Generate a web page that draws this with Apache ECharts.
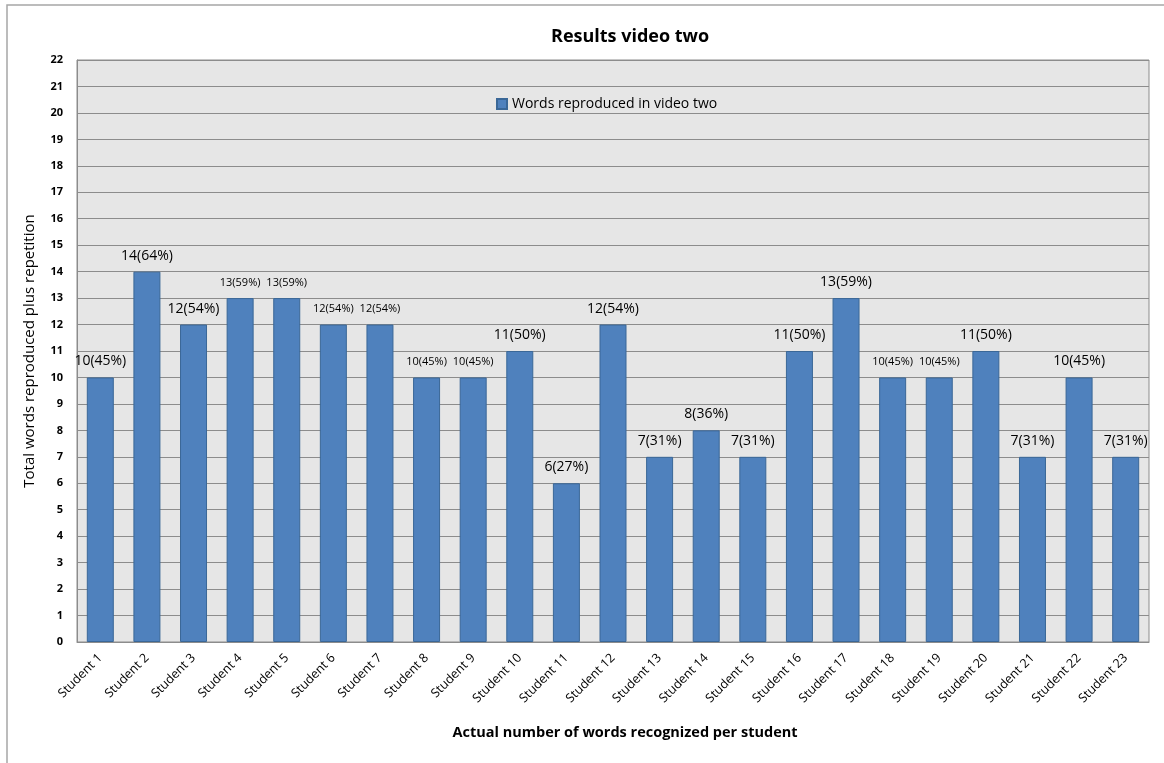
<!DOCTYPE html>
<html lang="en">
<head>
    <meta charset="UTF-8">
    <title>Results video two</title>
    <script src="https://cdn.jsdelivr.net/npm/echarts@6/dist/echarts.min.js"></script>
    <style>
        html, body { margin: 0; padding: 0; background: #fff; }
        #chart { width: 1164px; height: 763px; }
    </style>
</head>
<body>
<div id="chart"></div>
<script type="application/javascript">
    // data
    var students = ['Student 1', 'Student 2', 'Student 3', 'Student 4', 'Student 5', 'Student 6',
        'Student 7', 'Student 8', 'Student 9', 'Student 10', 'Student 11', 'Student 12',
        'Student 13', 'Student 14', 'Student 15', 'Student 16', 'Student 17', 'Student 18',
        'Student 19', 'Student 20', 'Student 21', 'Student 22', 'Student 23'];
    var words = [10, 14, 12, 13, 13, 12, 12, 10, 10, 11, 6, 12, 7, 8, 7, 11, 13, 10, 10, 11, 7, 10, 7];
    var percents = [45, 64, 54, 59, 59, 54, 54, 45, 45, 50, 27, 54, 31, 36, 31, 50, 59, 45, 45, 50, 31, 45, 31];
    // labels drawn in a smaller font in the original
    var smallLabels = [3, 4, 5, 6, 7, 8, 17, 18];

    var font = '"Open Sans", "DejaVu Sans", sans-serif';

    var chart = echarts.init(document.getElementById('chart'));
    var option = {
        backgroundColor: '#fff',
        animation: false,
        graphic: [{
            type: 'rect',
            shape: {x: 7, y: 5, width: 1170, height: 770},
            style: {fill: 'none', stroke: '#a6a6a6', lineWidth: 1.5},
            silent: true
        }],
        title: {
            text: 'Results video two',
            left: 546,
            top: 23,
            textStyle: {fontFamily: font, fontSize: 18, fontWeight: 'bold', color: '#000'}
        },
        legend: {
            data: ['Words reproduced in video two'],
            top: 92,
            left: 491,
            itemWidth: 10,
            itemHeight: 10,
            itemGap: 4,
            icon: 'rect',
            textStyle: {fontFamily: font, fontSize: 14, color: '#000'}
        },
        grid: {
            left: 77,
            right: 15,
            top: 60,
            bottom: 121,
            show: true,
            backgroundColor: '#e6e6e6',
            borderColor: '#8c8c8c',
            borderWidth: 1
        },
        xAxis: {
            type: 'category',
            data: students,
            name: 'Actual number of words recognized per student',
            nameLocation: 'middle',
            nameGap: 83,
            nameTextStyle: {
                fontFamily: font, fontSize: 14.5, fontWeight: 'bold', color: '#000',
                padding: [0, 0, 0, 24]
            },
            axisLine: {lineStyle: {color: '#8c8c8c'}},
            axisTick: {show: false},
            axisLabel: {
                interval: 0,
                rotate: 45,
                margin: 14,
                fontFamily: font,
                fontSize: 12.5,
                color: '#000'
            }
        },
        yAxis: {
            type: 'value',
            min: 0,
            max: 22,
            interval: 1,
            name: 'Total words reproduced plus repetition',
            nameLocation: 'middle',
            nameGap: 40,
            nameTextStyle: {fontFamily: font, fontSize: 15, color: '#000'},
            axisLine: {show: true, lineStyle: {color: '#8c8c8c'}},
            axisTick: {show: false},
            axisLabel: {fontFamily: font, fontSize: 11, fontWeight: 'bold', color: '#000', margin: 14},
            splitLine: {lineStyle: {color: '#8c8c8c', width: 1}}
        },
        series: [{
            name: 'Words reproduced in video two',
            type: 'bar',
            barWidth: 27,
            itemStyle: {color: '#4f81bd', borderColor: '#3a6797', borderWidth: 1},
            data: words.map(function (v, i) {
                var small = smallLabels.indexOf(i) >= 0;
                return {
                    value: v,
                    label: {
                        show: true,
                        position: 'top',
                        distance: small ? 10 : 9,
                        formatter: v + '(' + percents[i] + '%)',
                        fontFamily: font,
                        fontSize: small ? 11 : 14,
                        color: '#000'
                    }
                };
            })
        }]
    };
    chart.setOption(option);
</script>
</body>
</html>
